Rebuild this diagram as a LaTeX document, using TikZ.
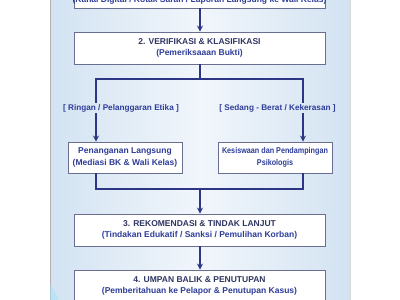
\documentclass[tikz,border=0pt]{standalone}
\usepackage{fontspec}
\setmainfont{Liberation Sans}
\newfontfamily\narrowfont[FakeStretch=0.86]{Liberation Sans}
\usetikzlibrary{arrows.meta,calc}
\definecolor{navy}{HTML}{2D3585}
\definecolor{boxline}{HTML}{6A6F92}
\definecolor{titletext}{HTML}{2F3562}
\definecolor{subtext}{HTML}{2E3D98}
\definecolor{panelA}{HTML}{D3E3F2}
\definecolor{panelB}{HTML}{F1F6FB}
\tikzset{
  stepbox/.style={draw=boxline, line width=0.9pt, fill=white, minimum width=251pt, minimum height=32pt, align=center, inner sep=0pt, font=\fontsize{8.5}{11.5}\selectfont\bfseries},
  sidebox/.style={draw=boxline, line width=0.9pt, fill=white, minimum width=114pt, minimum height=31pt, align=center, inner sep=0pt, font=\fontsize{8.5}{11.5}\selectfont\bfseries, text=subtext},
  branchlabel/.style={font=\fontsize{8.2}{10}\selectfont\bfseries, text=subtext, inner sep=1pt},
  conn/.style={draw=navy, line width=1.8pt},
  arr/.style={conn, -{Stealth[length=6pt,width=6pt]}},
}
\begin{document}
\begin{tikzpicture}[x=1pt,y=-1pt]
\useasboundingbox (0,0) rectangle (400,300);
\fill[white] (0,0) rectangle (400,300);
\shade[left color=panelA, right color=panelA, middle color=panelB] (50,-5) rectangle (350,305);
\draw[gray!60, line width=0.6pt] (50,-5) -- (50,305);
\draw[gray!30, line width=0.6pt] (350,-5) -- (350,305);
\fill[cyan!35, opacity=0.5] (50,285) .. controls (54,290) and (58,296) .. (60,305) -- (50,305) -- cycle;

\node[stepbox, minimum height=40pt] (s1) at (199.5,-12) {};
\node[font=\fontsize{8.5}{11.5}\selectfont\bfseries, text=subtext, inner sep=0pt] (s1t) at (199.5,0.5) {(Kanal Digital / Kotak Saran / Laporan Langsung ke Wali Kelas)};
\node[stepbox] (s2) at (199.5,48) {\textcolor{titletext}{2. VERIFIKASI \& KLASIFIKASI}\\\textcolor{subtext}{(Pemeriksaaan Bukti)}};
\node[sidebox] (sl) at (125,157.5) {Penanganan Langsung\\(Mediasi BK \& Wali Kelas)};
\node[sidebox, font=\narrowfont\fontsize{8.4}{11.5}\selectfont\bfseries] (sr) at (275,157.5) {Kesiswaan dan Pendampingan\\Psikologis};
\node[stepbox] (s3) at (199.5,230) {\textcolor{titletext}{3. REKOMENDASI \& TINDAK LANJUT}\\\textcolor{subtext}{(Tindakan Edukatif / Sanksi / Pemulihan Korban)}};
\node[stepbox] (s4) at (199.5,286) {\textcolor{titletext}{4. UMPAN BALIK \& PENUTUPAN}\\\textcolor{subtext}{(Pemberitahuan ke Pelapor \& Penutupan Kasus)}};

\node[branchlabel] (ll) at (121,108) {[ Ringan / Pelanggaran Etika ]};
\node[branchlabel] (lr) at (277.5,108) {[ Sedang - Berat / Kekerasan ]};

\coordinate (split) at (200,79);
\coordinate (bl) at (96,79);
\coordinate (br) at (303,79);
\coordinate (merge) at (200,189);
\coordinate (ml) at (96,189);
\coordinate (mr) at (303,189);

\draw[arr] (s1.south -| split) -- (s2.north -| split);
\draw[conn] (s2.south -| split) -- (split);
\draw[conn, line cap=rect] (bl) -- (br);
\draw[conn] (bl) -- (bl |- ll.north);
\draw[conn] (br) -- (br |- lr.north);
\draw[arr] (bl |- ll.south) -- (sl.north -| bl);
\draw[arr] (br |- lr.south) -- (sr.north -| br);
\draw[conn] (sl.south -| ml) -- (ml);
\draw[conn] (sr.south -| mr) -- (mr);
\draw[conn, line cap=rect] (ml) -- (mr);
\draw[arr] (merge) -- (s3.north -| merge);
\draw[arr] (s3.south -| merge) -- (s4.north -| merge);
\end{tikzpicture}
\end{document}
